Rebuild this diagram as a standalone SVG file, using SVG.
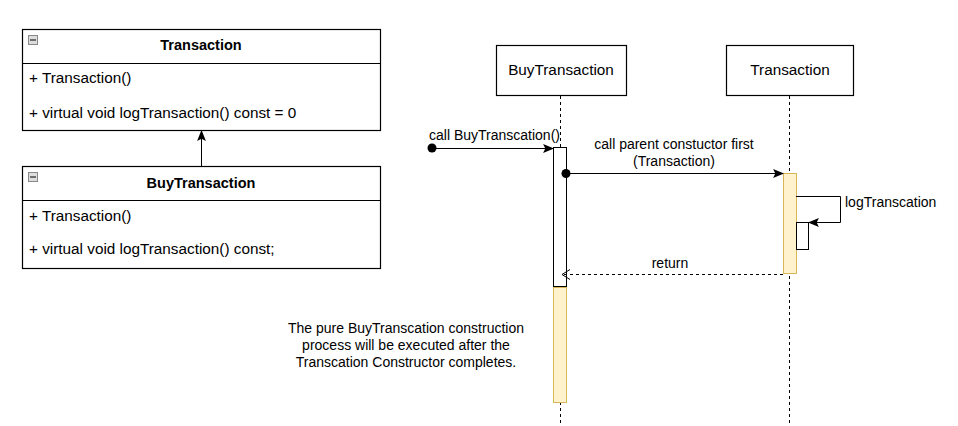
<svg xmlns="http://www.w3.org/2000/svg" width="958" height="426" viewBox="0 0 958 426">
<defs>
<style>
text{font-family:"Liberation Sans",Arial,sans-serif;font-size:14px;fill:#000}
.m{font-size:15.3px}
.b{font-weight:bold;text-anchor:middle;font-size:14.5px}
.c{text-anchor:middle}
.box{fill:#fff;stroke:#000;stroke-width:1.2}
.ln{stroke:#000;stroke-width:1;fill:none}
.life{stroke:#000;stroke-width:1;stroke-dasharray:3,3;fill:none}
.act{fill:#fff2cc;stroke:#d6b656;stroke-width:1}
.actw{fill:#fff;stroke:#000;stroke-width:1}
.icon{fill:#ddd;stroke:#888;stroke-width:1}
</style>
<marker id="blk" viewBox="0 0 10 10" refX="9" refY="5" markerWidth="11" markerHeight="11" markerUnits="userSpaceOnUse" orient="auto"><path d="M0,1 L10,5 L0,9 L2,5 Z" fill="#000"/></marker>
<marker id="open" viewBox="0 0 10 12" refX="9" refY="6" markerWidth="10" markerHeight="12" markerUnits="userSpaceOnUse" orient="auto"><path d="M1,1 L9,6 L1,11" fill="none" stroke="#000"/></marker>
</defs>
<g id="class-transaction">
<rect class="box" x="22.5" y="29.5" width="358" height="101"/>
<line class="ln" x1="22.5" y1="63.5" x2="380.5" y2="63.5"/>
<rect class="icon" x="28.5" y="35.5" width="9" height="9"/>
<line x1="30" y1="40" x2="36" y2="40" stroke="#000"/>
<text class="b" x="201" y="50">Transaction</text>
<text class="m" x="29" y="83">+ Transaction()</text>
<text class="m" x="29" y="118">+ virtual void logTransaction() const = 0</text>
</g>
<g id="class-buytransaction">
<rect class="box" x="22.5" y="166.5" width="358" height="102"/>
<line class="ln" x1="22.5" y1="200.5" x2="380.5" y2="200.5"/>
<rect class="icon" x="28.5" y="172.5" width="9" height="9"/>
<line x1="30" y1="177" x2="36" y2="177" stroke="#000"/>
<text class="b" x="201" y="188">BuyTransaction</text>
<text class="m" x="29" y="221">+ Transaction()</text>
<text class="m" x="29" y="254">+ virtual void logTransaction() const;</text>
</g>
<g id="life-buytransaction">
<rect class="box" x="496.5" y="45.5" width="130" height="50"/>
<text class="c m" x="561" y="75">BuyTransaction</text>
<line class="life" x1="560.5" y1="96" x2="560.5" y2="425"/>
<rect class="actw" x="553.5" y="147.5" width="13" height="139"/>
<rect class="act" x="553.5" y="287.5" width="13" height="115"/>
</g>
<g id="life-transaction">
<rect class="box" x="726.5" y="45.5" width="127" height="50"/>
<text class="c m" x="790" y="75">Transaction</text>
<line class="life" x1="789.5" y1="96" x2="789.5" y2="425"/>
<rect class="act" x="783.5" y="173.5" width="13" height="100"/>
<rect class="actw" x="796.5" y="222.5" width="12" height="27"/>
</g>
<g id="connectors">
<line class="ln" x1="201.5" y1="166" x2="201.5" y2="131" marker-end="url(#blk)"/>
<circle cx="432" cy="148" r="4.5" fill="#000"/>
<line class="ln" x1="432" y1="148.5" x2="553" y2="148.5" marker-end="url(#blk)"/>
<circle cx="566" cy="173.5" r="4.5" fill="#000"/>
<line class="ln" x1="566" y1="173.5" x2="783" y2="173.5" marker-end="url(#blk)"/>
<path class="ln" d="M796,196.5 H840.5 V222.5 H809" marker-end="url(#blk)"/>
<line x1="783" y1="274.5" x2="562" y2="274.5" stroke="#000" stroke-dasharray="3,3" marker-end="url(#open)"/>
</g>
<g id="labels">
<text x="429" y="140">call BuyTranscation()</text>
<text class="c" x="674" y="149">call parent constuctor first</text>
<text class="c" x="674" y="166">(Transaction)</text>
<text x="845" y="207">logTranscation</text>
<text class="c" x="670" y="268">return</text>
<text class="c" x="406" y="333">The pure BuyTranscation construction</text>
<text class="c" x="406" y="350">process will be executed after the</text>
<text class="c" x="406" y="367">Transcation Constructor completes.</text>
</g>
</svg>
